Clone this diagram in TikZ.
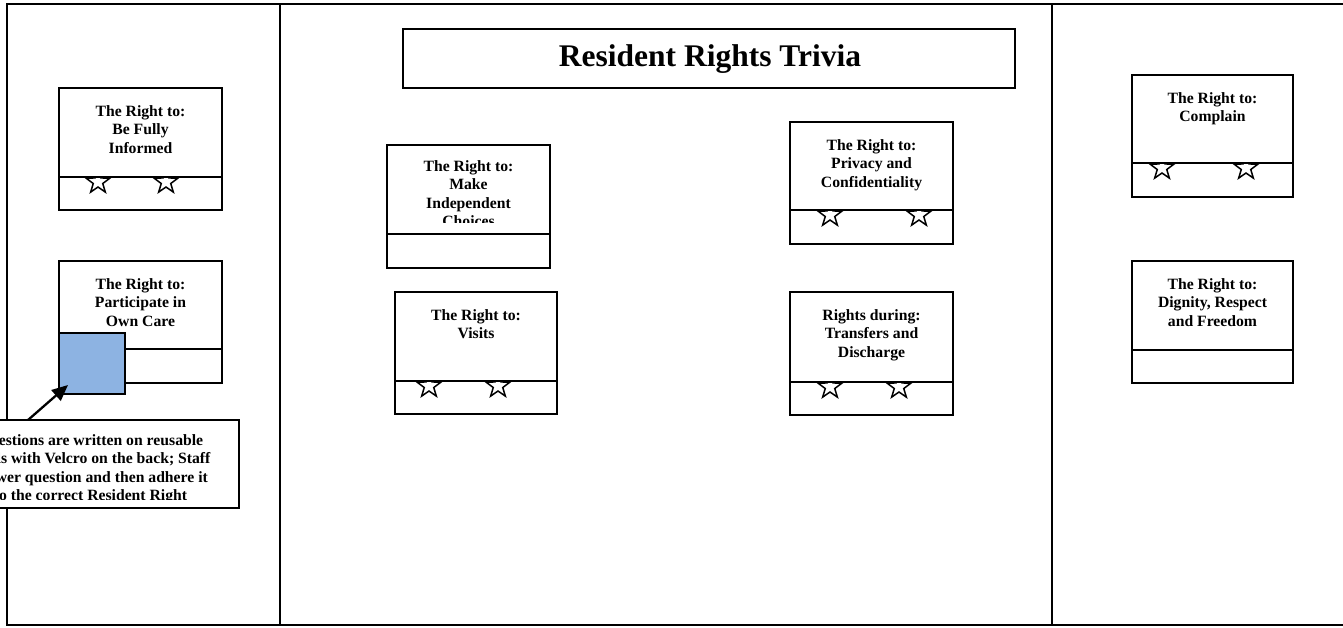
\documentclass[tikz,border=0pt]{standalone}
\usepackage{fontspec}
\setmainfont{Liberation Serif}
\usetikzlibrary{shapes.geometric,arrows.meta,calc}
\definecolor{velcroblue}{RGB}{141,179,226}
\newcommand\cardlow[5]{% name, left, right, divider, bottom
  \node[cardpart, anchor=north west, minimum width={(#3)-(#2)}, minimum height={(#5)-(#4)}] (#1-low) at (#2,#4) {};}
\newcommand\cardup[5]{% name, left, top, right, divider
  \node[cardpart, anchor=north west, minimum width={(#4)-(#2)}, minimum height={(#5)-(#3)}] (#1-up) at (#2,#3) {};}
\begin{document}
\begin{tikzpicture}[x=1pt,y=-1pt,
  frameline/.style={line width=2pt, line cap=rect},
  cardpart/.style={draw, line width=1.8pt, fill=white, inner sep=0pt, outer sep=0pt},
  starmark/.style={star, star points=5, star point ratio=2.5, minimum size=25pt, inner sep=0pt, draw, line width=1.5pt, fill=white},
  cardtext/.style={font=\bfseries\fontsize{15.7}{18.5}\selectfont, align=center, inner sep=0pt, anchor=north},
  arrowline/.style={line width=2.3pt, -{Triangle[length=16pt,width=14pt]}}]
\useasboundingbox (0,0) rectangle (1343,627);
\fill[white] (0,0) rectangle (1343,627);
% frame
\draw[frameline] (1343,4) -- (7,4) -- (7,625) -- (1343,625);
\draw[frameline] (280,4) -- (280,625);
\draw[frameline] (1052,4) -- (1052,625);
% title
\node[cardpart, anchor=north west, minimum width=612, minimum height=59] (title) at (403,29) {};
\node[font=\bfseries\fontsize{31.5}{36}\selectfont, inner sep=0pt] (titletext) at ($(title.center)+(1,1)$) {Resident Rights Trivia};
% Be Fully Informed
\cardlow{bfi}{59}{222}{177}{210}
\node[starmark] (bfi-s1) at (98,182) {};
\node[starmark] (bfi-s2) at (166,182) {};
\cardup{bfi}{59}{88}{222}{177}
\node[cardtext] (bfi-t) at ($(bfi-up.north)+(0,17)$) {The Right to:\\Be Fully\\Informed};
% Participate in Own Care
\cardlow{poc}{59}{222}{349}{383}
\cardup{poc}{59}{261}{222}{349}
\node[cardtext] (poc-t) at ($(poc-up.north)+(0,17)$) {The Right to:\\Participate in\\Own Care};
\node[cardpart, fill=velcroblue, anchor=north west, minimum width=66, minimum height=61] (velcro) at (59,333) {};
% Make Independent Choices
\cardlow{mic}{387}{550}{234}{268}
\cardup{mic}{387}{145}{550}{234}
\begin{scope}
\clip (387,145) rectangle (550,222);
\node[cardtext] (mic-t) at ($(mic-up.north)+(0,15)$) {The Right to:\\Make\\Independent\\Choices};
\end{scope}
% Visits
\cardlow{vis}{395}{557}{381}{414}
\node[starmark] (vis-s1) at (429,386) {};
\node[starmark] (vis-s2) at (498,386) {};
\cardup{vis}{395}{292}{557}{381}
\node[cardtext] (vis-t) at ($(vis-up.north)+(0,17)$) {The Right to:\\Visits};
% Privacy
\cardlow{pri}{790}{953}{210}{244}
\node[starmark] (pri-s1) at (830,215) {};
\node[starmark] (pri-s2) at (919,215) {};
\cardup{pri}{790}{122}{953}{210}
\node[cardtext] (pri-t) at ($(pri-up.north)+(0,17)$) {The Right to:\\Privacy and\\Confidentiality};
% Transfers
\cardlow{tra}{790}{953}{382}{415}
\node[starmark] (tra-s1) at (830,387) {};
\node[starmark] (tra-s2) at (899,387) {};
\cardup{tra}{790}{292}{953}{382}
\node[cardtext] (tra-t) at ($(tra-up.north)+(0,17)$) {Rights during:\\Transfers and\\Discharge};
% Complain
\cardlow{com}{1132}{1293}{163}{197}
\node[starmark] (com-s1) at (1162,168) {};
\node[starmark] (com-s2) at (1246,168) {};
\cardup{com}{1132}{75}{1293}{163}
\node[cardtext] (com-t) at ($(com-up.north)+(0,17)$) {The Right to:\\Complain};
% Dignity
\cardlow{dig}{1132}{1293}{350}{383}
\cardup{dig}{1132}{261}{1293}{350}
\node[cardtext] (dig-t) at ($(dig-up.north)+(0,17)$) {The Right to:\\Dignity, Respect\\and Freedom};
% callout
\node[cardpart, anchor=north west, minimum width=297, minimum height=88] (callout) at (-58,420) {};
\begin{scope}
\clip (-58,420) rectangle (239,499);
\node[cardtext] (callout-t) at ($(callout.north)+(0,14)$) {Questions are written on reusable\\cards with Velcro on the back; Staff\\answer question and then adhere it\\to the correct Resident Right};
\end{scope}
\coordinate (arrowtail) at ($(callout.north west)+(86,0)$);
\coordinate (arrowtip) at ($(velcro.south west)+(9,-9)$);
\draw[arrowline] (arrowtail) -- (arrowtip);
\end{tikzpicture}
\end{document}
